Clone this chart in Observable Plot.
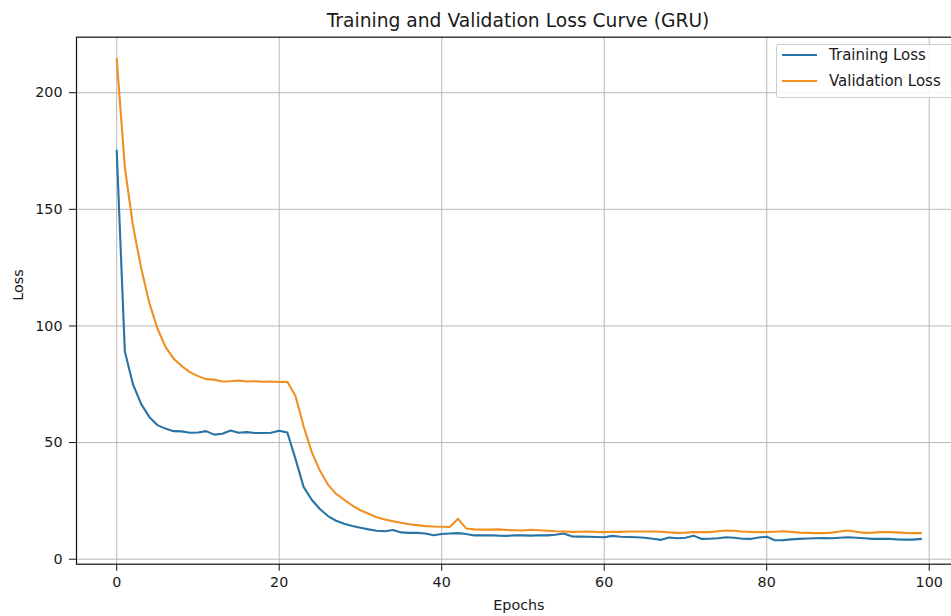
<!DOCTYPE html>
<html>
<head>
<meta charset="utf-8">
<script src="https://cdn.jsdelivr.net/npm/d3@7"></script>
<script src="https://cdn.jsdelivr.net/npm/@observablehq/plot@0.6"></script>
<style>
html, body { margin: 0; padding: 0; background: #fff; }
#wrap { position: relative; width: 951px; height: 616px; overflow: hidden; font-family: "DejaVu Sans", sans-serif; color: #111; }
#title { height: 30px; box-sizing: border-box; padding: 6px 0 0 85px; text-align: center; font-size: 18.7px; line-height: 30px; white-space: nowrap; color: #1a1a1a; }
#legend { position: absolute; left: 776px; top: 44px; width: 180px; height: 52px; border: 1px solid #cccccc; border-radius: 3px; background: rgba(255,255,255,0.85); font-size: 15px; color: #1a1a1a; }
#legend .row { position: absolute; left: 0; height: 20px; width: 180px; }
#legend .row svg { position: absolute; left: 5px; top: 8px; }
#legend .row span { position: absolute; left: 52px; top: 0; line-height: 20px; white-space: nowrap; }
</style>
</head>
<body>
<div id="wrap">
  <div id="title"></div>
  <div id="chart"></div>
  <div id="legend"></div>
</div>
<script>
const titleText = "Training and Validation Loss Curve (GRU)";
const xLabel = "Epochs";
const yLabel = "Loss";
const seriesNames = ["Training Loss", "Validation Loss"];
const seriesColors = ["#2874a6", "#f08f22"];
const xTicks = [0, 20, 40, 60, 80, 100];
const yTicks = [0, 50, 100, 150, 200];

const epochs = d3.range(100);

const trainingLoss = [
  175.2, 89, 75, 66.6, 61, 57.5, 56, 54.9, 54.8, 54.2,
  54.3, 54.9, 53.4, 53.8, 55.2, 54.2, 54.5, 54.1, 54.1, 54.2,
  55.1, 54.3, 43, 31, 25.5, 21.5, 18.5, 16.5, 15.2, 14.2,
  13.5, 12.8, 12.2, 12.0, 12.5, 11.5, 11.3, 11.3, 11.0, 10.3,
  10.8, 11.0, 11.2, 10.8, 10.2, 10.2, 10.3, 10.1, 10.0, 10.2,
  10.2, 10.1, 10.3, 10.2, 10.5, 11.0, 9.8, 9.7, 9.6, 9.5,
  9.4, 10.0, 9.6, 9.5, 9.4, 9.2, 8.8, 8.3, 9.3, 9.0,
  9.2, 10.1, 8.7, 8.8, 9.0, 9.4, 9.2, 8.8, 8.7, 9.3,
  9.6, 8.1, 8.2, 8.5, 8.7, 8.9, 9.0, 9.1, 9.0, 9.2,
  9.4, 9.2, 9.0, 8.7, 8.7, 8.8, 8.5, 8.4, 8.4, 8.7
];

const validationLoss = [
  214.5, 168, 143, 125, 110, 99, 91, 86, 82.8, 80.2,
  78.5, 77.2, 77.0, 76.2, 76.3, 76.6, 76.2, 76.3, 76.1, 76.2,
  76.0, 76.1, 70, 57, 46, 38, 32, 28, 25.5, 23,
  21, 19.5, 18, 17, 16.3, 15.6, 15, 14.6, 14.2, 14.0,
  13.9, 13.8, 17.3, 13.2, 12.8, 12.7, 12.7, 12.8, 12.5, 12.4,
  12.3, 12.6, 12.4, 12.2, 12.0, 11.9, 11.7, 11.8, 11.9, 11.7,
  11.6, 11.8, 11.7, 11.9, 11.9, 11.9, 11.9, 11.8, 11.5, 11.3,
  11.4, 11.6, 11.6, 11.6, 12.0, 12.3, 12.2, 11.9, 11.7, 11.6,
  11.6, 11.8, 12.0, 11.7, 11.4, 11.3, 11.2, 11.2, 11.4, 11.9,
  12.3, 11.8, 11.3, 11.4, 11.6, 11.6, 11.5, 11.3, 11.2, 11.2
];

const rows = [];
epochs.forEach((e, i) => rows.push({epoch: e, loss: trainingLoss[i], series: seriesNames[0]}));
epochs.forEach((e, i) => rows.push({epoch: e, loss: validationLoss[i], series: seriesNames[1]}));

document.getElementById("title").textContent = titleText;

const chart = Plot.plot({
  width: 975,
  height: 586,
  marginTop: 6.7,
  marginLeft: 76,
  marginRight: 14.2,
  marginBottom: 52.3,
  style: {fontFamily: "DejaVu Sans, sans-serif", fontSize: "14.3px", color: "#1a1a1a", background: "white", maxWidth: "none", overflow: "visible"},
  x: {domain: [-4.95, 103.95], label: null},
  y: {domain: [-2.14, 223.8], label: null},
  color: {domain: seriesNames, range: seriesColors},
  marks: [
    Plot.gridX(xTicks, {stroke: "#b0b0b0", strokeOpacity: 1, strokeWidth: 0.9}),
    Plot.gridY(yTicks, {stroke: "#b0b0b0", strokeOpacity: 1, strokeWidth: 0.9}),
    Plot.axisX(xTicks, {tickSize: 7, tickPadding: 6, stroke: "#111", label: null}),
    Plot.axisY(yTicks, {tickSize: 7, tickPadding: 7, stroke: "#111", label: null}),
    Plot.lineY(rows, {x: "epoch", y: "loss", z: "series", stroke: "series", strokeWidth: 2.1}),
    Plot.frame({stroke: "#111", strokeWidth: 1.2}),
    Plot.text([xLabel], {frameAnchor: "bottom", dy: 41, text: d => d, fontSize: 14.3, lineAnchor: "middle"}),
    Plot.text([yLabel], {frameAnchor: "left", dx: -58, text: d => d, fontSize: 14.3, rotate: -90, lineAnchor: "middle"})
  ]
});
document.getElementById("chart").appendChild(chart);

const legend = document.getElementById("legend");
seriesNames.forEach((name, i) => {
  const row = document.createElement("div");
  row.className = "row";
  row.style.top = (i === 0 ? 0 : 25.7) + "px";
  row.innerHTML = `<svg width="36" height="4"><line x1="0" y1="2" x2="35" y2="2" stroke="${seriesColors[i]}" stroke-width="2.1"/></svg><span>${name}</span>`;
  legend.appendChild(row);
});
</script>
</body>
</html>
